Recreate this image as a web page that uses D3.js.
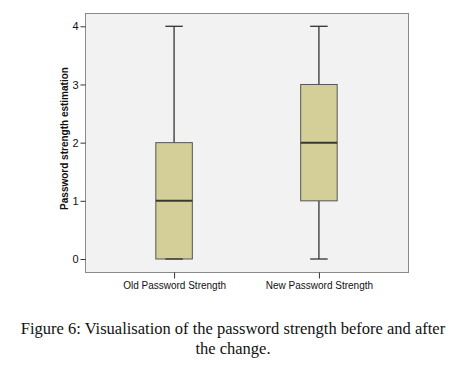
<!DOCTYPE html>
<html>
<head>
<meta charset="utf-8">
<script src="https://cdn.jsdelivr.net/npm/d3@7"></script>
<style>
  body { margin: 0; background: #fff; }
  svg { display: block; }
</style>
</head>
<body>
<svg width="464" height="369"></svg>
<script>
// box plot summaries
const categories = ["Old Password Strength", "New Password Strength"];
const mins    = [0, 0];
const q1s     = [0, 1];
const medians = [1, 2];
const q3s     = [2, 3];
const maxs    = [4, 4];
const yTicks  = [0, 1, 2, 3, 4];

const svg = d3.select("svg");
const plot = { left: 85, top: 13, right: 408, bottom: 272 };

const x = d3.scalePoint()
  .domain(categories)
  .range([plot.left, plot.right])
  .padding(0.615);

const y = d3.scaleLinear()
  .domain([0, 4])
  .range([259, 26.3]);

svg.append("rect")
  .attr("x", plot.left + 0.5).attr("y", plot.top + 0.5)
  .attr("width", plot.right - plot.left).attr("height", plot.bottom - plot.top)
  .attr("fill", "#f2f2f2")
  .attr("stroke", "#8a8a8a")
  .attr("stroke-width", 1);

// y axis
const yAxis = svg.append("g")
  .attr("transform", `translate(${plot.left + 0.5},0)`)
  .call(d3.axisLeft(y).tickValues(yTicks).tickSize(5).tickPadding(2).tickFormat(d3.format("d")));
yAxis.select(".domain").remove();
yAxis.selectAll("line").attr("stroke", "#333");
yAxis.selectAll("text")
  .attr("font-family", "Liberation Sans, Arial, sans-serif")
  .attr("font-size", 11)
  .attr("fill", "#111");

// x axis
const xAxis = svg.append("g")
  .attr("transform", `translate(0,${plot.bottom + 0.5})`)
  .call(d3.axisBottom(x).tickSize(6).tickPadding(3));
xAxis.select(".domain").remove();
xAxis.selectAll("line").attr("stroke", "#333");
xAxis.selectAll("text")
  .attr("font-family", "Liberation Sans, Arial, sans-serif")
  .attr("font-size", 10)
  .attr("fill", "#111");

svg.append("text")
  .attr("transform", `translate(68,${(plot.top + plot.bottom) / 2 - 4}) rotate(-90)`)
  .attr("text-anchor", "middle")
  .attr("font-family", "Liberation Sans, Arial, sans-serif")
  .attr("font-weight", "bold")
  .attr("font-size", 10)
  .attr("fill", "#111")
  .text("Password strength estimation");

// boxes
const boxW = 36.5, capW = 17.5;
const boxes = svg.append("g").selectAll("g")
  .data(d3.range(categories.length))
  .join("g")
  .attr("transform", i => `translate(${x(categories[i])},0)`);

// whiskers
boxes.append("line")
  .attr("x1", 0).attr("x2", 0)
  .attr("y1", i => y(q3s[i])).attr("y2", i => y(maxs[i]))
  .attr("stroke", "#333").attr("stroke-width", 1.3);
boxes.append("line")
  .attr("x1", 0).attr("x2", 0)
  .attr("y1", i => y(q1s[i])).attr("y2", i => y(mins[i]))
  .attr("stroke", "#333").attr("stroke-width", 1.3);

boxes.append("rect")
  .attr("x", -boxW / 2)
  .attr("y", i => y(q3s[i]))
  .attr("width", boxW)
  .attr("height", i => y(q1s[i]) - y(q3s[i]))
  .attr("fill", "#d4cf99")
  .attr("stroke", "#555")
  .attr("stroke-width", 1);

// caps
boxes.append("line")
  .attr("x1", -capW / 2).attr("x2", capW / 2)
  .attr("y1", i => y(maxs[i])).attr("y2", i => y(maxs[i]))
  .attr("stroke", "#333").attr("stroke-width", 1.3);
boxes.append("line")
  .attr("x1", -capW / 2).attr("x2", capW / 2)
  .attr("y1", i => y(mins[i])).attr("y2", i => y(mins[i]))
  .attr("stroke", "#333").attr("stroke-width", 1.3);

// medians
boxes.append("line")
  .attr("x1", -boxW / 2).attr("x2", boxW / 2)
  .attr("y1", i => y(medians[i])).attr("y2", i => y(medians[i]))
  .attr("stroke", "#3a3a2c").attr("stroke-width", 2);

// caption
const caption = ["Figure 6: Visualisation of the password strength before and after", "the change."];
svg.append("g").selectAll("text")
  .data(caption)
  .join("text")
  .attr("x", 233)
  .attr("y", (d, i) => 334 + i * 20)
  .attr("text-anchor", "middle")
  .attr("font-family", "Liberation Serif, Times New Roman, serif")
  .attr("font-size", 16.5)
  .attr("fill", "#111")
  .text(d => d);
</script>
</body>
</html>
